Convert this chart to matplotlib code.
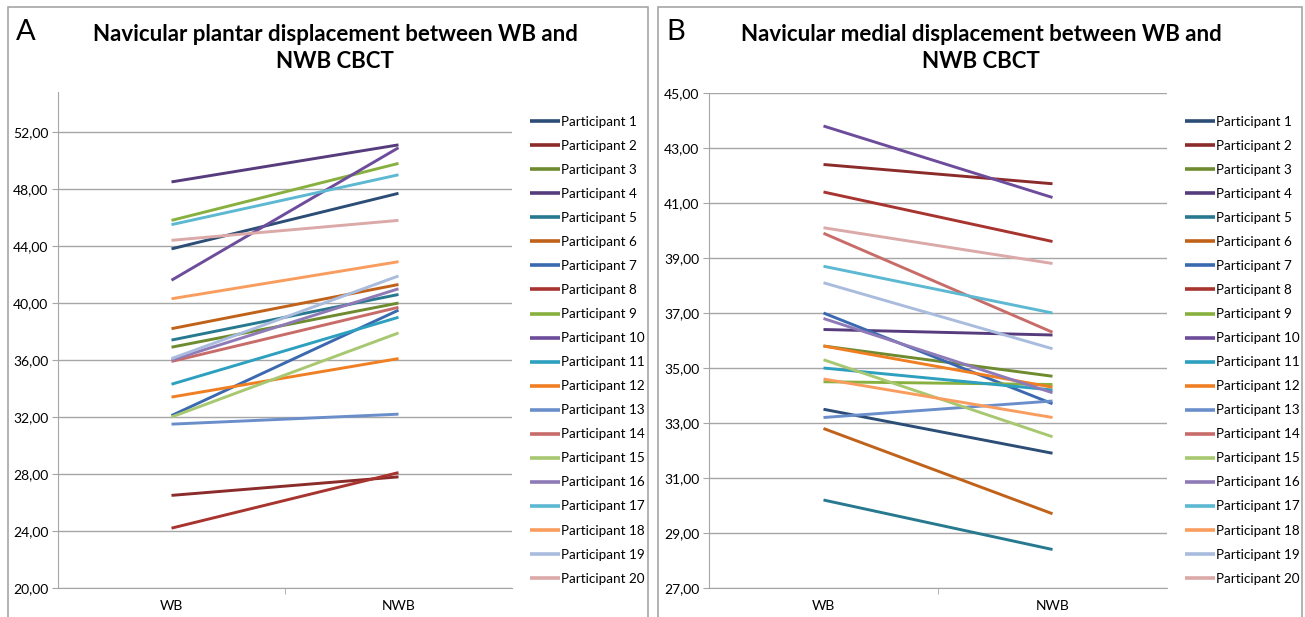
import matplotlib
matplotlib.use("Agg")
import matplotlib.pyplot as plt
from matplotlib.patches import Rectangle
from matplotlib.ticker import FuncFormatter, FixedLocator

plt.rcParams['font.family'] = ['Lato', 'DejaVu Sans']

# data
categories = ["WB", "NWB"]
participants = ["Participant %d" % i for i in range(1, 21)]

plantar_wb = [43.8, 26.5, 36.9, 48.5, 37.4, 38.2, 32.1, 24.2, 45.8, 41.6,
              34.3, 33.4, 31.5, 35.9, 32.0, 36.0, 45.5, 40.3, 36.1, 44.4]
plantar_nwb = [47.7, 27.8, 40.0, 51.1, 40.6, 41.3, 39.5, 28.1, 49.8, 50.9,
               39.0, 36.1, 32.2, 39.7, 37.9, 41.0, 49.0, 42.9, 41.9, 45.8]

medial_wb = [33.5, 42.4, 35.8, 36.4, 30.2, 32.8, 37.0, 41.4, 34.5, 43.8,
             35.0, 35.8, 33.2, 39.9, 35.3, 36.8, 38.7, 34.6, 38.1, 40.1]
medial_nwb = [31.9, 41.7, 34.7, 36.2, 28.4, 29.7, 33.7, 39.6, 34.4, 41.2,
              34.2, 34.3, 33.8, 36.3, 32.5, 34.1, 37.0, 33.2, 35.7, 38.8]

# excel 2007 style series colours
colors = ['#2C4D75', '#8B2B2A', '#6E8B30', '#563C7C', '#27798F',
          '#C0621A', '#3A69B0', '#A83430', '#88B03E', '#6D4C9B',
          '#2DA0BF', '#F07E23', '#6A8ECA', '#C86C69', '#A7C870',
          '#8F7AB8', '#5DB8D2', '#F99D5F', '#A9BCDD', '#DBA9A8']

W, H = 1305, 617
fig = plt.figure(figsize=(W / 100, H / 100), dpi=100)
grey = '#A6A6A6'


def px_box(x0, y0, x1, y1):
    # pixel box (top-left origin) -> figure fraction rect
    return [x0 / W, 1 - y1 / H, (x1 - x0) / W, (y1 - y0) / H]


def comma(v, pos):
    return ("%.2f" % v).replace('.', ',')


def draw_panel(box, wb, nwb, ylim, yticks, letter, letter_x, title, title_x, legend_x, frame):
    # chart frame
    fig.add_artist(Rectangle((frame[0] / W, -0.05), (frame[1] - frame[0]) / W, 1.05 - 7 / H,
                             transform=fig.transFigure, fill=False, edgecolor=grey, lw=1.2))
    ax = fig.add_axes(px_box(*box))
    for i in range(len(wb)):
        ax.plot([0.5, 1.5], [wb[i], nwb[i]], color=colors[i], lw=2.1,
                solid_capstyle='butt', label=participants[i])
    ax.set_xlim(0, 2)
    ax.set_ylim(*ylim)
    ax.yaxis.set_major_locator(FixedLocator(yticks))
    ax.yaxis.set_major_formatter(FuncFormatter(comma))
    ax.set_xticks([0.5, 1.5])
    ax.set_xticklabels(categories)
    ax.set_xticks([1.0], minor=True)
    ax.tick_params(axis='x', which='major', length=0, pad=9, labelsize=10)
    ax.tick_params(axis='x', which='minor', length=4, direction='out', color=grey)
    ax.tick_params(axis='y', length=4, direction='out', color=grey, labelsize=10, pad=3)
    ax.grid(axis='y', color=grey, lw=1)
    ax.set_axisbelow(True)
    for s in ['top', 'right']:
        ax.spines[s].set_visible(False)
    ax.spines['left'].set_color(grey)
    ax.spines['bottom'].set_color(grey)
    ax.patch.set_alpha(0)

    fig.text(letter_x / W, 1 - 32 / H, letter, fontsize=21, va='center', ha='left')
    fig.text(title_x / W, 1 - 48 / H, title, fontsize=16, fontweight='bold',
             ha='center', va='center', linespacing=1.3)

    leg = fig.legend(handles=ax.get_lines(), loc='upper left', frameon=False,
                     bbox_to_anchor=(legend_x / W, 1 - 116 / H), bbox_transform=fig.transFigure,
                     fontsize=9.7, handlelength=2.2, handletextpad=0.08,
                     labelspacing=0.893, borderpad=0, borderaxespad=0)
    for line in leg.get_lines():
        line.set_linewidth(2.6)
    return ax


draw_panel((58, 92, 512, 588), plantar_wb, plantar_nwb, (20, 54.81),
           [20, 24, 28, 32, 36, 40, 44, 48, 52], "A", 16,
           "Navicular plantar displacement between WB and\nNWB CBCT", 335, 530, (8, 648))

draw_panel((709, 93, 1167, 588), medial_wb, medial_nwb, (27, 45),
           [27, 29, 31, 33, 35, 37, 39, 41, 43, 45], "B", 666,
           "Navicular medial displacement between WB and\nNWB CBCT", 981, 1185, (658, 1302))

fig.savefig("out.png", dpi=100, facecolor='white')
